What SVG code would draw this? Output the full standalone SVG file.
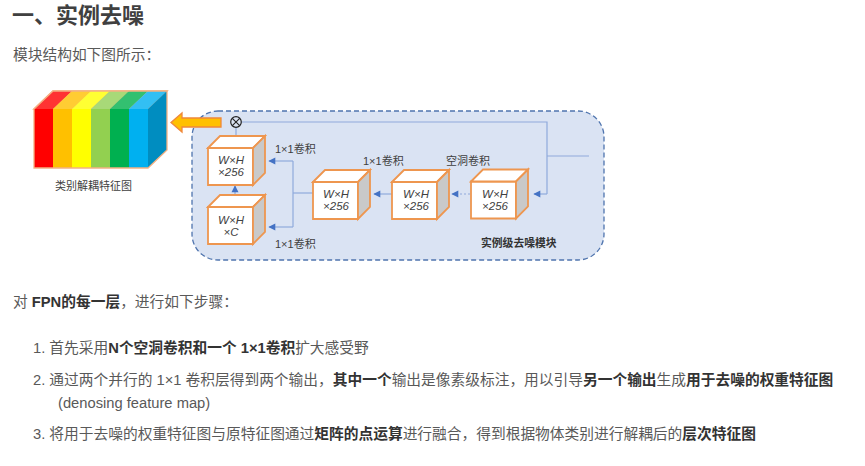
<svg xmlns="http://www.w3.org/2000/svg" width="865" height="466" viewBox="0 0 865 466" lang="zh-CN">
<defs>
<marker id="ah" viewBox="0 0 10 10" refX="9" refY="5" markerWidth="7" markerHeight="7" markerUnits="userSpaceOnUse" orient="auto-start-reverse" overflow="visible"><path d="M0 0 L10 5 L0 10 Z" fill="#4472C4"/></marker>
<g id="box">
<path d="M0 12 L45 12 L45 49 L0 49 Z" fill="#fff" stroke="#EE964F" stroke-width="1.800"/>
<path d="M0 12 L12 0 L57 0 L45 12 Z" fill="#fff" stroke="#EE964F" stroke-width="1.800"/>
<path d="M45 12 L57 0 L57 37 L45 49 Z" fill="#C9C9C9" stroke="#EE964F" stroke-width="1.800"/>
</g>
</defs>
<style>
text{font-family:"Liberation Sans","Noto Sans CJK SC",sans-serif}
.body{font-size:14.72px;fill:#595959}
.b{font-weight:700;fill:#333}
.h{font-size:22px;font-weight:700;fill:#404040}
.lab{font-size:11px;fill:#404040}
.blab{font-size:10.8px;font-weight:700;fill:#333}
.dim{font-size:11.5px;font-style:italic;fill:#404040;text-anchor:middle}
.cn{fill:none;stroke:#8FAADC;stroke-width:1.2}
.ar{marker-end:url(#ah)}
</style>
<rect width="865" height="466" fill="#fff"/>
<text class="h" x="12" y="23">一、实例去噪</text>
<text class="body" x="13" y="60">模块结构如下图所示：</text>

<g id="feature-map">
<path d="M34 109 L148 109 L167 91 L53 91 Z" fill="#F4B183" stroke="#F4B183" stroke-width="1.5"/>
<path d="M34 109 L53 109 L72 91 L53 91 Z" fill="#FF3333"/>
<path d="M53 109 L72 109 L91 91 L72 91 Z" fill="#FFCC33"/>
<path d="M72 109 L91 109 L110 91 L91 91 Z" fill="#FFFF33"/>
<path d="M91 109 L110 109 L129 91 L110 91 Z" fill="#A8D978"/>
<path d="M110 109 L129 109 L148 91 L129 91 Z" fill="#33C070"/>
<path d="M129 109 L148 109 L167 91 L148 91 Z" fill="#33BFF3"/>
<rect x="34" y="109" width="19" height="59" fill="#FF0000"/>
<rect x="53" y="109" width="19" height="59" fill="#FFC000"/>
<rect x="72" y="109" width="19" height="59" fill="#FFFF00"/>
<rect x="91" y="109" width="19" height="59" fill="#92D050"/>
<rect x="110" y="109" width="19" height="59" fill="#00B050"/>
<rect x="129" y="109" width="19" height="59" fill="#00B0F0"/>
<path d="M148 109 L167 91 L167 150 L148 168 Z" fill="#008DC0"/>
<path d="M34 109 L53 91 L167 91 L167 150 L148 168 L34 168 Z" fill="none" stroke="#F4B183" stroke-width="1.300"/>
<text class="lab" x="55" y="190">类别解耦特征图</text>
</g>

<g id="panel">
<rect x="192" y="111" width="412" height="149" rx="26" ry="26" fill="#DAE3F3" stroke="#4F74AE" stroke-width="1.300" stroke-dasharray="5 3"/>
<text class="blab" x="481" y="247">实例级去噪模块</text>
</g>

<g id="connectors">
<path class="cn" d="M242 122 H547 V194"/>
<path class="cn" d="M589 156 H547"/>
<path class="cn ar" d="M547 194 H534"/>
<path class="cn" d="M236 128 V136"/>
<path class="cn ar" d="M235 196 V186"/>
<path class="cn" d="M313 193 H293"/>
<path class="cn ar" d="M293 161 H269"/>
<path class="cn ar" d="M293 227 H269"/>
<path class="cn" d="M293 161 V227"/>
<path class="cn ar" d="M392 194 H374"/>
<path class="cn ar" d="M470 194 H452" stroke-dasharray="2 2"/>
</g>

<g id="arrow-out"><path d="M221 118 H182 V113 L171 122.500 L182 132 V127 H221 Z" fill="#FFC000" stroke="#F0883A" stroke-width="1.300"/></g>

<g id="op-multiply">
<circle cx="236" cy="122" r="5.300" fill="#DAE3F3" stroke="#222" stroke-width="1.200"/>
<path d="M232.300 118.300 L239.700 125.700 M239.700 118.300 L232.300 125.700" stroke="#222" stroke-width="1.100"/>
</g>

<g id="box-a"><use href="#box" x="208" y="136"/><text class="dim" x="231" y="164">W×H</text><text class="dim" x="231" y="176">×256</text></g>
<g id="box-b"><use href="#box" x="208" y="195"/><text class="dim" x="231" y="224">W×H</text><text class="dim" x="231" y="236">×C</text></g>
<g id="box-c"><use href="#box" x="313" y="170"/><text class="dim" x="336" y="198">W×H</text><text class="dim" x="336" y="210">×256</text></g>
<g id="box-d"><use href="#box" x="392" y="170"/><text class="dim" x="416" y="198">W×H</text><text class="dim" x="416" y="210">×256</text></g>
<g id="box-e"><use href="#box" x="471" y="169.500"/><text class="dim" x="495" y="198">W×H</text><text class="dim" x="495" y="210">×256</text></g>

<g id="labels">
<text class="lab" x="275" y="153">1×1卷积</text>
<text class="lab" x="275" y="248">1×1卷积</text>
<text class="lab" x="363" y="165">1×1卷积</text>
<text class="lab" x="446" y="165">空洞卷积</text>
</g>

<text class="body" x="13" y="307">对 <tspan class="b">FPN的每一层</tspan>，进行如下步骤：</text>
<text class="body" x="33" y="353">1. 首先采用<tspan class="b">N个空洞卷积和一个 1×1卷积</tspan>扩大感受野</text>
<text class="body" x="33" y="385">2. 通过两个并行的 1×1 卷积层得到两个输出，<tspan class="b">其中一个</tspan>输出是像素级标注，用以引导<tspan class="b">另一个输出</tspan>生成<tspan class="b">用于去噪的权重特征图</tspan></text>
<text class="body" x="58" y="408">(denosing feature map)</text>
<text class="body" x="33" y="439">3. 将用于去噪的权重特征图与原特征图通过<tspan class="b">矩阵的点运算</tspan>进行融合，得到根据物体类别进行解耦后的<tspan class="b">层次特征图</tspan></text>
</svg>
